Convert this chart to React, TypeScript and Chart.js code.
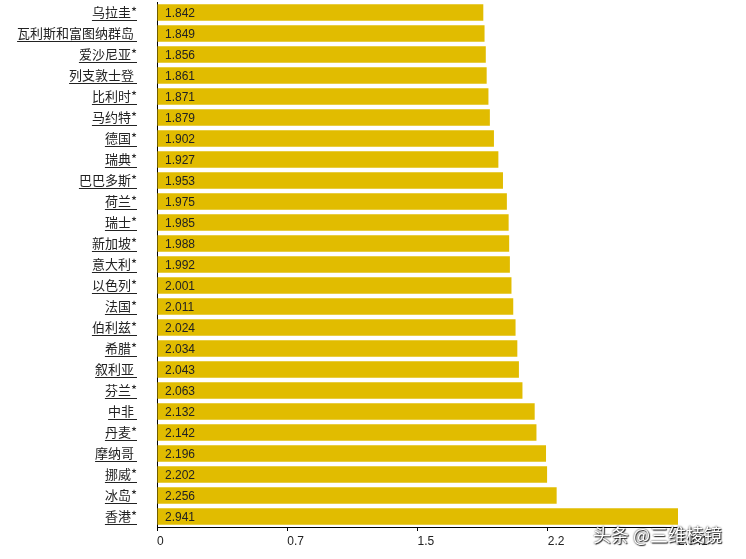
import { Chart, registerables } from 'chart.js';
import { useEffect, useRef } from 'react';

Chart.register(...registerables);

const countries = [
    '乌拉圭*', '瓦利斯和富图纳群岛 ', '爱沙尼亚*', '列支敦士登 ', '比利时*', '马约特*', '德国*',
    '瑞典*', '巴巴多斯*', '荷兰*', '瑞士*', '新加坡*', '意大利*', '以色列*', '法国*', '伯利兹*',
    '希腊*', '叙利亚 ', '芬兰*', '中非 ', '丹麦*', '摩纳哥 ', '挪威*', '冰岛*', '香港*'
];
const values = [
    1.842, 1.849, 1.856, 1.861, 1.871, 1.879, 1.902, 1.927, 1.953, 1.975, 1.985, 1.988, 1.992,
    2.001, 2.011, 2.024, 2.034, 2.043, 2.063, 2.132, 2.142, 2.196, 2.202, 2.256, 2.941
];
const axisMax = 2.941;
const tickValues = [0, axisMax / 4, axisMax / 2, (axisMax * 3) / 4, axisMax];

const BAR_COLOR = '#E1BC00';
const LABEL_FONT = '13px "Noto Sans CJK SC", "Noto Sans", sans-serif';

// draws the value inside each bar and underlines the category labels
const decorations = {
    id: 'decorations',
    afterDatasetsDraw(chart: Chart) {
        const ctx = chart.ctx;
        const meta = chart.getDatasetMeta(0);
        ctx.save();
        ctx.font = '12px "Liberation Sans", Arial, sans-serif';
        ctx.fillStyle = '#222';
        ctx.textAlign = 'left';
        ctx.textBaseline = 'middle';
        meta.data.forEach((bar: any, i: number) => {
            ctx.fillText(values[i].toFixed(3), chart.chartArea.left + 8, bar.y + 1);
        });
        ctx.restore();
    },
    afterDraw(chart: Chart) {
        const ctx = chart.ctx;
        const yScale: any = chart.scales.y;
        const right = chart.chartArea.left - 20;
        ctx.save();
        ctx.font = LABEL_FONT;
        ctx.strokeStyle = '#222';
        ctx.lineWidth = 1;
        countries.forEach((label, i) => {
            const y = Math.round(yScale.getPixelForValue(i) + 7) + 0.5;
            const w = ctx.measureText(label).width;
            ctx.beginPath();
            ctx.moveTo(right - w, y);
            ctx.lineTo(right, y);
            ctx.stroke();
        });
        ctx.restore();
    }
};

function BarChart() {
    const canvasRef = useRef<HTMLCanvasElement>(null);
    const chartRef = useRef<Chart | null>(null);

    useEffect(() => {
        if (!canvasRef.current) return;
        if (chartRef.current) chartRef.current.destroy();

        chartRef.current = new Chart(canvasRef.current, {
            type: 'bar',
            data: {
                labels: countries,
                datasets: [{
                    data: values,
                    backgroundColor: BAR_COLOR,
                    borderWidth: 0,
                    barPercentage: 0.78,
                    categoryPercentage: 1
                }]
            },
            options: {
                animation: false,
                responsive: true,
                maintainAspectRatio: false,
                indexAxis: 'y',
                layout: { padding: { top: 2, right: 68, left: 0, bottom: 0 } },
                plugins: {
                    legend: { display: false },
                    tooltip: { enabled: false }
                },
                scales: {
                    x: {
                        min: 0,
                        max: axisMax,
                        afterBuildTicks: (scale: any) => {
                            scale.ticks = tickValues.map(v => ({ value: v }));
                        },
                        afterFit: (scale: any) => { scale.height = 32; },
                        ticks: {
                            autoSkip: false,
                            maxRotation: 0,
                            align: 'start',
                            padding: 3,
                            color: '#222',
                            font: { family: '"Liberation Sans", Arial, sans-serif', size: 12 },
                            callback: (v: any) => {
                                if (v === 0) return '0';
                                if (v === axisMax) return '2.941';
                                return Number(v).toFixed(1);
                            }
                        },
                        grid: { drawOnChartArea: false, drawTicks: true, tickLength: 4, color: '#000' },
                        border: { color: '#000', width: 1 }
                    },
                    y: {
                        afterFit: (scale: any) => {
                            scale.width = 157;
                            scale.paddingTop = 0;
                            scale.paddingBottom = 0;
                        },
                        ticks: {
                            autoSkip: false,
                            padding: 20,
                            color: '#222',
                            font: { family: '"Noto Sans CJK SC", "Noto Sans", sans-serif', size: 13 }
                        },
                        grid: { display: false, drawTicks: false },
                        border: { color: '#000', width: 1 }
                    }
                }
            },
            plugins: [decorations]
        });

        return () => {
            if (chartRef.current) {
                chartRef.current.destroy();
                chartRef.current = null;
            }
        };
    }, []);

    return <canvas ref={canvasRef} />;
}

export default function App() {
    return (
        <div style={{ position: 'absolute', left: 0, top: 0, width: 746, height: 559, background: '#fff' }}>
            <BarChart />
            <div style={{
                position: 'absolute', left: 593, top: 521, fontSize: 18,
                fontFamily: '"Noto Sans CJK SC", sans-serif', color: '#fff',
                textShadow: '0 0 2px #000, 1px 1px 1px #333', whiteSpace: 'nowrap'
            }}>
                头条 @三维棱镜
            </div>
        </div>
    );
}
